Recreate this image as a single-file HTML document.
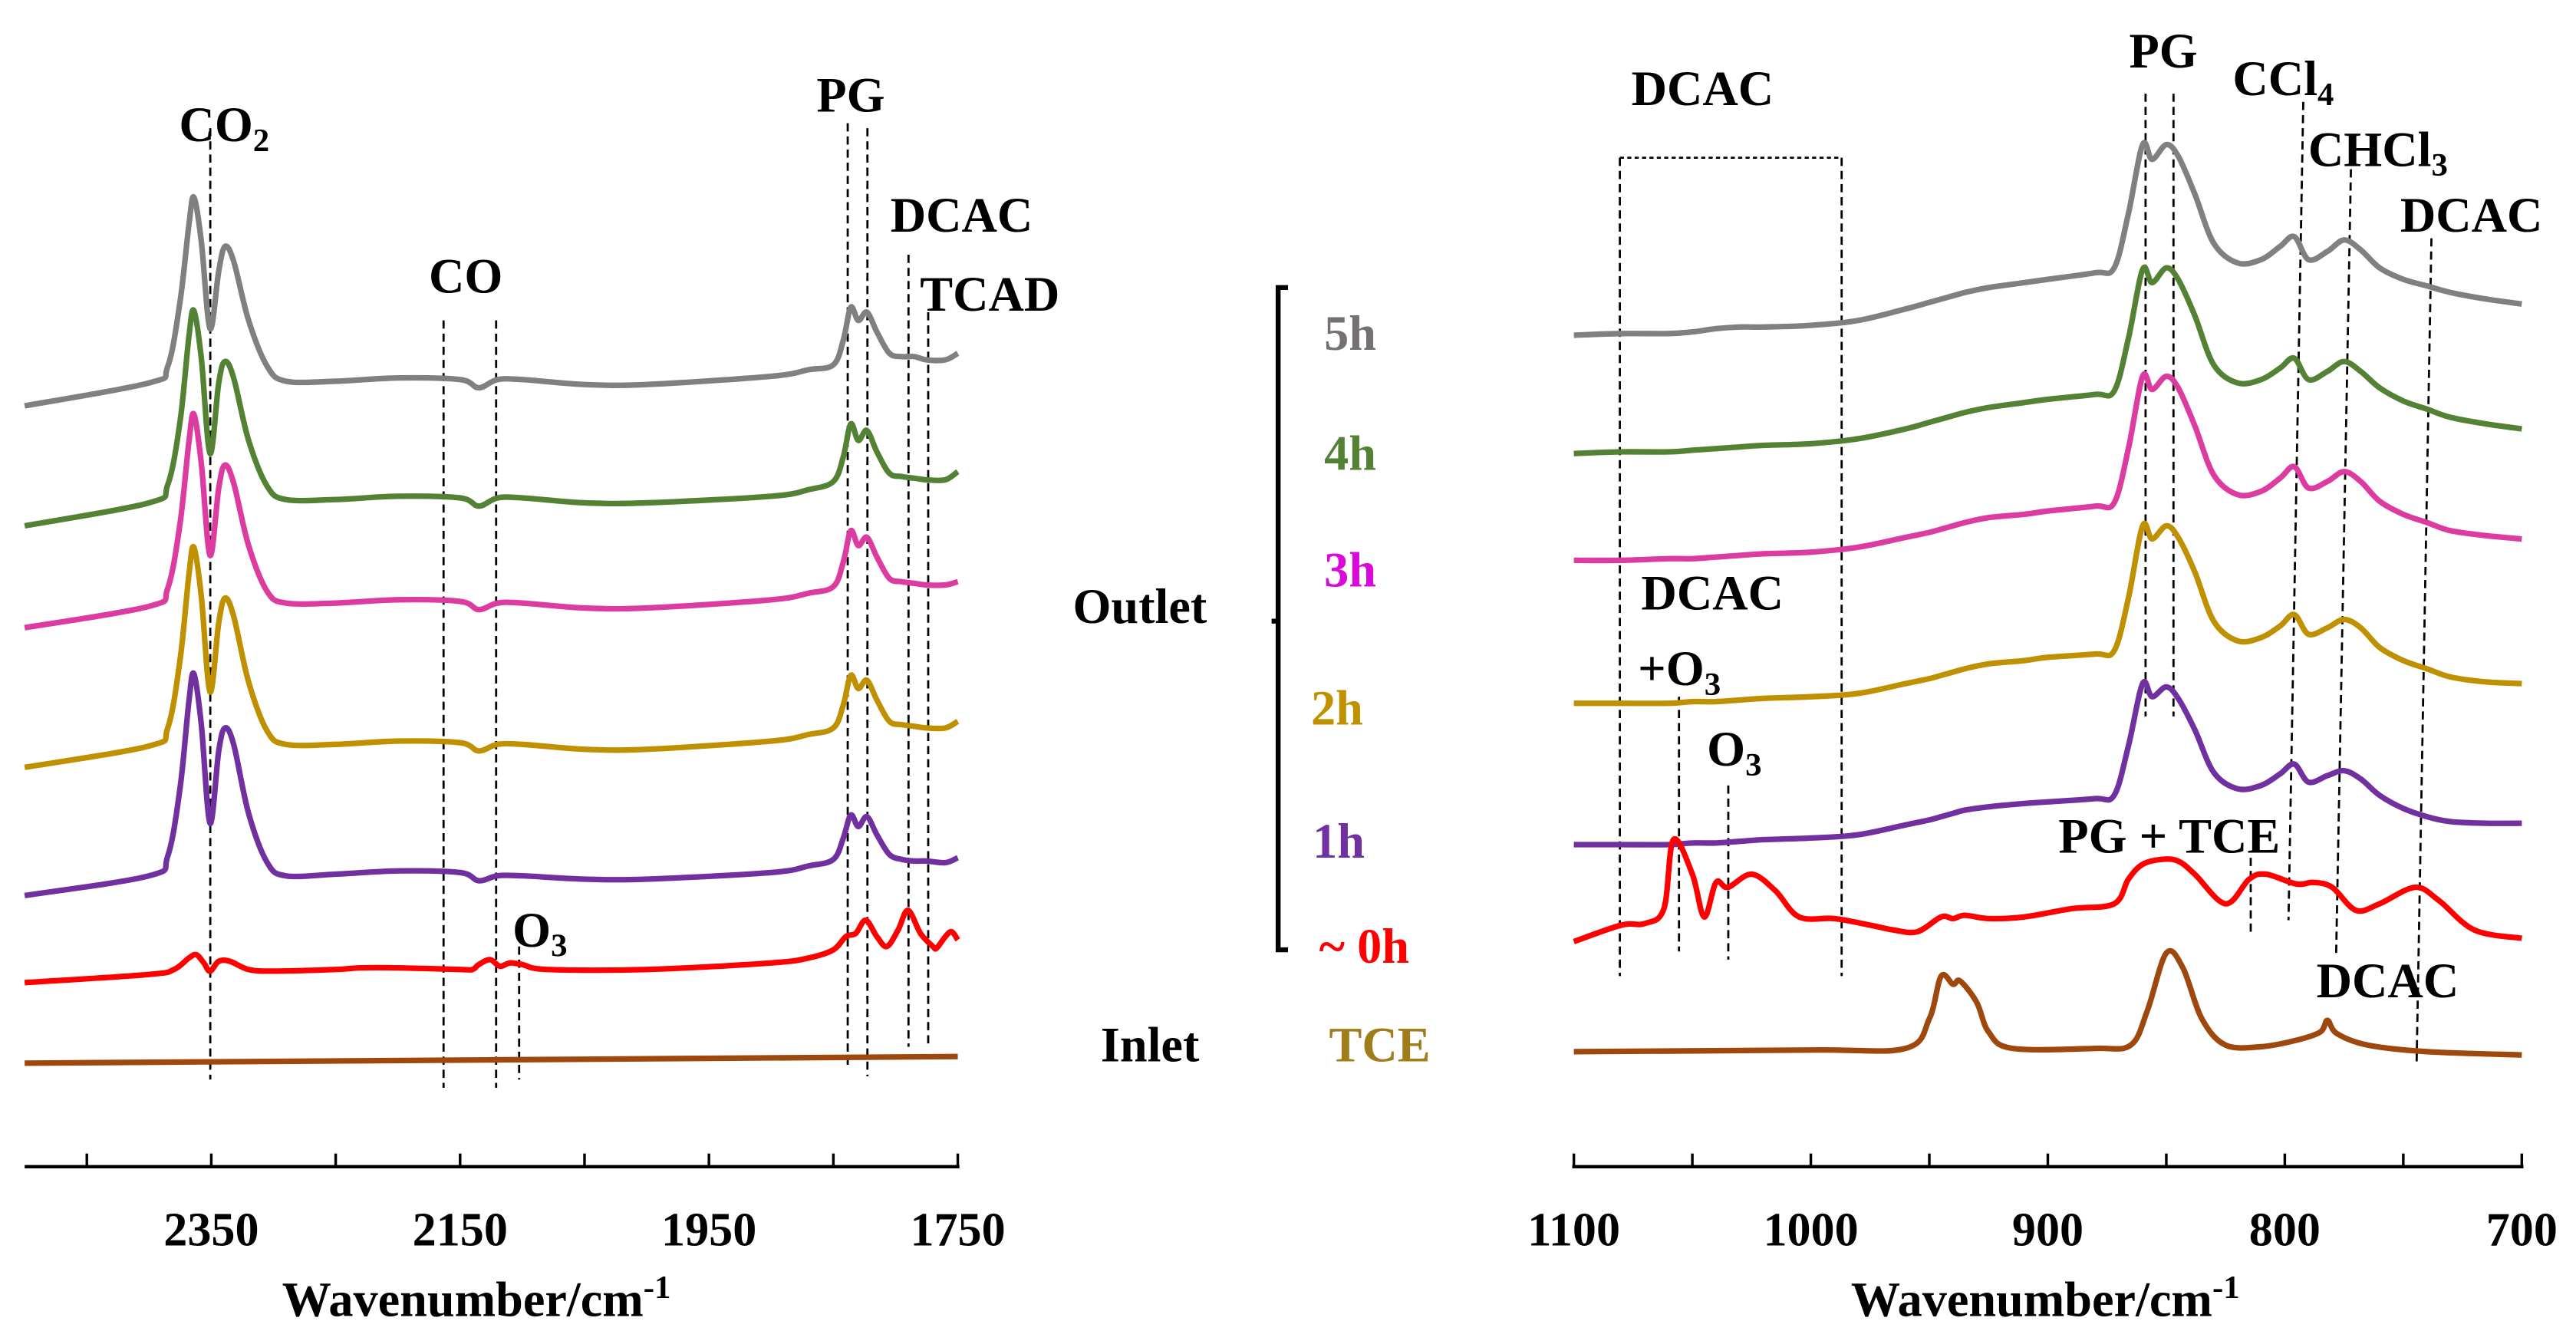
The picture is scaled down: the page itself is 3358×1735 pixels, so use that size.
<!DOCTYPE html>
<html><head><meta charset="utf-8"><style>
html,body{margin:0;padding:0;background:#fff;}
svg{display:block;}
text{font-family:"Liberation Serif",serif;font-weight:bold;}
</style></head><body>
<svg id="chart" width="3358" height="1735" viewBox="0 0 1568 810" preserveAspectRatio="none" xmlns="http://www.w3.org/2000/svg">
<g id="static" font-size="30" fill="#000">
  <text x="109" y="86">CO<tspan font-size="20" dy="6">2</tspan></text>
  <text x="261" y="178">CO</text>
  <text x="497" y="68">PG</text>
  <text x="542" y="141">DCAC</text>
  <text x="560" y="189">TCAD</text>
  <text x="312" y="576">O<tspan font-size="20" dy="6">3</tspan></text>
  <text x="993" y="64">DCAC</text>
  <text x="1296" y="41">PG</text>
  <text x="1359" y="58">CCl<tspan font-size="20" dy="6">4</tspan></text>
  <text x="1405" y="101">CHCl<tspan font-size="20" dy="6">3</tspan></text>
  <text x="1461" y="141">DCAC</text>
  <text x="999" y="371">DCAC</text>
  <text x="997" y="417">+O<tspan font-size="20" dy="6">3</tspan></text>
  <text x="1039" y="466">O<tspan font-size="20" dy="6">3</tspan></text>
  <text x="1253" y="519">PG + TCE</text>
  <text x="1410" y="607">DCAC</text>
  <text x="806" y="213" fill="#767171">5h</text>
  <text x="806" y="286" fill="#548235">4h</text>
  <text x="806" y="357" fill="#d90ad9">3h</text>
  <text x="798" y="441" fill="#bf9000">2h</text>
  <text x="799" y="522" fill="#7030a0">1h</text>
  <text x="803" y="586" fill="#ff0000">~ 0h</text>
  <text x="809" y="646" fill="#a07c1a">TCE</text>
  <text x="670" y="646">Inlet</text>
  <text x="653" y="379">Outlet</text>
  <path d="M784 175 H778 V578 H784 M778 378 H774" stroke="#000" stroke-width="3" fill="none"/>
  <text x="290" y="801" text-anchor="middle">Wavenumber/cm<tspan font-size="20" dy="-11">-1</tspan></text>
  <text x="1245" y="801" text-anchor="middle">Wavenumber/cm<tspan font-size="20" dy="-11">-1</tspan></text>
  <g stroke="#000" stroke-width="1.3" stroke-dasharray="5,3" fill="none">
    <line x1="128" y1="78" x2="128" y2="657"/>
    <line x1="270" y1="195" x2="270" y2="662"/>
    <line x1="302" y1="195" x2="302" y2="662"/>
    <line x1="316" y1="568" x2="316" y2="657"/>
    <line x1="516" y1="75" x2="516" y2="648"/>
    <line x1="528" y1="78" x2="528" y2="655"/>
    <line x1="553" y1="155" x2="553" y2="637"/>
    <line x1="565" y1="190" x2="565" y2="637"/>
    <line x1="986" y1="96" x2="986" y2="594"/>
    <line x1="1121" y1="96" x2="1121" y2="594"/>
    <line x1="1306" y1="57" x2="1306" y2="436"/>
    <line x1="1323" y1="57" x2="1323" y2="436"/>
    <line x1="1402" y1="62" x2="1393" y2="560"/>
    <line x1="1431" y1="103" x2="1422" y2="581"/>
    <line x1="1480" y1="145" x2="1471" y2="646"/>
    <line x1="1370" y1="522" x2="1370" y2="568"/>
    <line x1="1022" y1="424" x2="1022" y2="579"/>
    <line x1="1052" y1="478" x2="1052" y2="584"/>
  </g>
  <line x1="986" y1="96" x2="1121" y2="96" stroke="#000" stroke-width="1.3" stroke-dasharray="2.5,2"/>
</g>
<g id="axes"></g>
<g id="series"></g>
</svg>
<script>
// ---- data ----
const leftWn = [2500,2400,2385,2375,2368,2364,2358,2351,2344,2339,2332,2320,2305,2290,2250,2200,2150,2135,2120,2100,2050,2000,1900,1870,1850,1842,1836,1830,1823,1815,1805,1795,1785,1775,1760,1750];
const left5h = [0,14,24,64,110,127,100,47,82,97,88,52,24,15,15,17,16,11,16,16,13,13,18,22,25,40,60,52,57,45,32,30,30,28,28,32];
const left4h = [0,14,25,64,115,131,102,44,87,100,90,52,24,16,16,18,17,12,17,17,14,14,18,22,27,42,62,52,58,45,32,30,29,28,28,33];
const left3h = [0,13,24,64,113,130,100,44,85,99,88,50,22,15,15,17,16,11,15,15,12,12,17,21,25,40,59,50,55,43,30,28,27,26,26,28];
const left2h = [0,13,24,66,117,134,104,46,88,103,92,52,22,14,14,16,15,10,14,14,11,11,16,20,24,38,56,48,53,41,28,26,25,24,24,28];
const left1h = [0,12,24,66,118,135,104,44,88,102,92,50,20,12,13,15,14,9,12,12,10,10,14,18,22,35,49,42,48,37,25,22,21,21,20,23];
const left0hWn = [2500,2400,2380,2368,2362,2356,2351,2344,2335,2320,2300,2250,2230,2200,2150,2140,2135,2126,2118,2110,2100,2080,2000,1900,1870,1850,1840,1832,1824,1815,1807,1798,1790,1780,1770,1767,1760,1755,1750];
const left0h = [0,5,8,15,17,12,7,13,13,8,7,8,9,9,8,8,11,14,10,12,11,8,8,12,15,20,28,30,38,28,22,32,44,30,22,21,28,31,26];
const leftTceWn = [2500,1750];
const leftTce = [0,4];

const rightWn = [1100,1080,1060,1050,1040,1030,1020,1000,980,960,950,945,940,935,925,910,900,880,872,866,860,856,850,845,838,830,820,810,802,796,790,782,775,768,760,750,740,730,715,700];
const right5h = [0,1,1,2,4,5,5,6,9,16,20,22,24,26,29,32,34,38,41,74,116,107,116,109,86,56,44,46,54,60,46,51,58,52,41,34,30,26,22,19];
const right4h = [0,1,1,2,3,4,5,6,9,15,19,21,23,25,28,31,33,36,38,70,112,104,113,106,84,54,43,45,52,58,45,50,56,50,40,32,27,22,18,15];
const right3h = [0,0,1,1,2,3,4,5,8,14,17,19,21,23,26,28,30,33,35,68,112,104,112,105,82,52,40,42,50,57,44,48,54,48,36,28,23,18,15,13];
const right2h = [0,0,0,1,1,2,3,4,6,12,15,17,19,21,24,26,28,30,32,64,108,100,108,101,80,50,38,40,47,54,42,46,51,46,34,26,21,16,13,12];
const right1h = [0,0,0,1,1,2,3,4,6,12,15,17,19,21,23,25,26,28,30,60,98,90,96,89,70,44,34,36,43,49,38,42,45,40,30,22,17,14,13,13];
const right0hWn = [1100,1080,1070,1062,1058,1050,1045,1040,1035,1025,1015,1005,990,975,965,955,945,940,935,925,910,890,872,866,860,852,845,838,825,815,808,795,788,780,770,760,745,735,720,700];
const right0h = [0,10,11,20,62,41,15,36,33,41,31,15,14,10,7,6,15,14,16,14,15,20,23,38,47,50,49,41,23,38,41,35,36,33,19,23,33,25,7,2];
const rightTceWn = [1100,1000,960,950,945,940,937,930,925,915,880,865,858,850,843,835,825,810,795,785,782,778,765,740,700];
const rightTce = [0,1,2,20,46,41,43,30,12,2,2,4,25,60,51,20,4,3,7,12,19,11,4,0,-2];

const leftTicks = [2450,2350,2250,2150,2050,1950,1850,1750];
const leftTickLabels = ["2350","2150","1950","1750"];
const rightTicks = [1100,1050,1000,950,900,850,800,750,700];
const rightTickLabels = ["1100","1000","900","800","700"];

// ---- scales ----
const xL = w => 15 + (2500 - w) * 568 / 750;
const xR = w => 958 + (1100 - w) * 577 / 400;
const AXIS_Y = 710;

const NS = "http://www.w3.org/2000/svg";
function mk(tag, attrs, parent){ const e=document.createElementNS(NS,tag); for(const k in attrs) e.setAttribute(k,attrs[k]); parent.appendChild(e); return e; }

function smoothPath(pts){
  let d = "M"+pts[0][0].toFixed(2)+" "+pts[0][1].toFixed(2);
  for(let i=0;i<pts.length-1;i++){
    const p0=pts[Math.max(0,i-1)], p1=pts[i], p2=pts[i+1], p3=pts[Math.min(pts.length-1,i+2)];
    const c1=[p1[0]+(p2[0]-p0[0])/6, p1[1]+(p2[1]-p0[1])/6];
    const c2=[p2[0]-(p3[0]-p1[0])/6, p2[1]-(p3[1]-p1[1])/6];
    d += " C"+c1[0].toFixed(2)+" "+c1[1].toFixed(2)+" "+c2[0].toFixed(2)+" "+c2[1].toFixed(2)+" "+p2[0].toFixed(2)+" "+p2[1].toFixed(2);
  }
  return d;
}

const series = document.getElementById('series');
function drawSeries(wn, vals, xf, base, color, name){
  const pts = wn.map((w,i)=>[xf(w), base - vals[i]]);
  const p = mk('path',{d:smoothPath(pts),stroke:color,'stroke-width':3.4,fill:'none','stroke-linejoin':'round'},series);
  
  
}
drawSeries(leftWn,left5h,xL,247,'#808080','spectrum-5h-left');
drawSeries(leftWn,left4h,xL,320,'#548235','spectrum-4h-left');
drawSeries(leftWn,left3h,xL,382,'#dc3ca0','spectrum-3h-left');
drawSeries(leftWn,left2h,xL,467,'#bf9000','spectrum-2h-left');
drawSeries(leftWn,left1h,xL,545,'#7030a0','spectrum-1h-left');
drawSeries(left0hWn,left0h,xL,598,'#ff0000','spectrum-0h-left');
drawSeries(leftTceWn,leftTce,xL,647,'#9e480e','spectrum-tce-left');
drawSeries(rightWn,right5h,xR,204,'#808080','spectrum-5h-right');
drawSeries(rightWn,right4h,xR,276,'#548235','spectrum-4h-right');
drawSeries(rightWn,right3h,xR,341,'#dc3ca0','spectrum-3h-right');
drawSeries(rightWn,right2h,xR,428,'#bf9000','spectrum-2h-right');
drawSeries(rightWn,right1h,xR,514,'#7030a0','spectrum-1h-right');
drawSeries(right0hWn,right0h,xR,573,'#ff0000','spectrum-0h-right');
drawSeries(rightTceWn,rightTce,xR,640,'#9e480e','spectrum-tce-right');

// ---- axes ----
const axes = document.getElementById('axes');
function drawAxis(x0,x1,ticks,labels,xf,name){
  const l = mk('line',{x1:x0,y1:AXIS_Y,x2:x1,y2:AXIS_Y,stroke:'#000','stroke-width':2},axes);
  
  
  ticks.forEach(t=>{
    const tk = mk('line',{x1:xf(t),y1:AXIS_Y-8,x2:xf(t),y2:AXIS_Y,stroke:'#000','stroke-width':1.6},axes);
    
    
  });
  labels.forEach(s=>{
    const tx = mk('text',{x:xf(+s),y:758,'text-anchor':'middle','font-size':29},axes);
    tx.textContent = s;
    
    
  });
}
drawAxis(15,584,leftTicks,leftTickLabels,xL,'x-axis-left');
drawAxis(957,1536,rightTicks,rightTickLabels,xR,'x-axis-right');
</script>
</body></html>
